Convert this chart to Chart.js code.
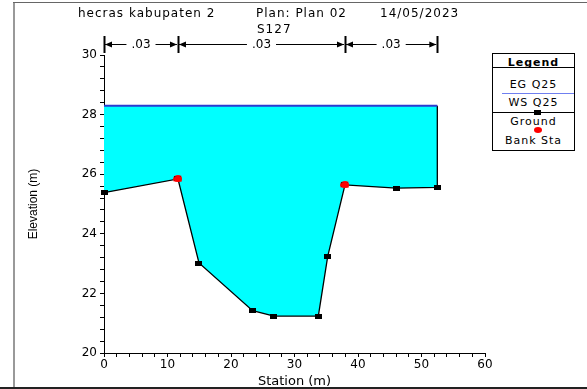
<!DOCTYPE html>
<html>
<head>
<meta charset="utf-8">
<script src="https://cdn.jsdelivr.net/npm/chart.js@4/dist/chart.umd.min.js"></script>
<style>
  body { margin: 0; background: #fff; }
  #wrap { position: relative; width: 587px; height: 389px; overflow: hidden; font-family: "DejaVu Sans", sans-serif; }
  #wrap canvas { position: absolute; left: 0; top: 0; }
  .txt { position: absolute; font-size: 12px; letter-spacing: 1px; white-space: nowrap; color: #000; line-height: 14px; }
  .frameL { position: absolute; left: 13px; top: 2px; width: 2px; height: 387px; background: #999; }
  .frameT { position: absolute; left: 13px; top: 2px; width: 600px; height: 1px; background: #666; }
  .frameB { position: absolute; left: 0; top: 387px; width: 587px; height: 2px; background: #222; }
  #legend { position: absolute; left: 492px; top: 53px; width: 81px; height: 96px; border: 1px solid #000; background: #fff; }
  #legend .row { position: absolute; left: 0; width: 100%; text-align: center; font-size: 11px; letter-spacing: 1px; line-height: 13px; }
  #legend .sep { position: absolute; left: 0; width: 100%; height: 1px; background: #000; }
</style>
</head>
<body>
<div id="wrap">
  <canvas id="chart" width="587" height="389"></canvas>
  <div class="frameL"></div>
  <div class="frameT"></div>
  <div class="frameB"></div>
  <div class="txt" style="left:78px; top:6px;">hecras kabupaten 2</div>
  <div class="txt" style="left:256px; top:6px;">Plan: Plan 02</div>
  <div class="txt" style="left:380px; top:6px;">14/05/2023</div>
  <div class="txt" style="left:257px; top:22px;">S127</div>
  <div id="legend">
    <div class="row" style="top:2px; font-weight:bold;">Legend</div>
    <div class="sep" style="top:13px;"></div>
    <div class="row" style="top:24px;">EG Q25</div>
    <div style="position:absolute; left:9px; right:0; top:39px; height:1px; background:#6f7ff0;"></div>
    <div class="row" style="top:42px;">WS Q25</div>
    <div style="position:absolute; left:0; right:0; top:58px; height:1px; background:#000;"></div>
    <div style="position:absolute; left:41px; top:56px; width:7px; height:5px; background:#000;"></div>
    <div class="row" style="top:61px;">Ground</div>
    <div style="position:absolute; left:41px; top:73px; width:8px; height:6px; border-radius:50%; background:#f00;"></div>
    <div class="row" style="top:80px;">Bank Sta</div>
  </div>
</div>
<script>
// cross section S127
const stations = [0, 11.65, 14.96, 23.4, 26.77, 33.75, 35.23, 37.95, 46.03, 52.49];
const elevations = [25.38, 25.84, 23.02, 21.42, 21.24, 21.24, 23.24, 25.64, 25.53, 25.56];
const wsElev = 28.3;
const bankStations = [11.65, 37.95];
const bankElevs = [25.84, 25.64];
// Manning's n regions
const nBreaks = [0, 11.65, 37.95, 52.49];
const nValues = [".03", ".03", ".03"];

// ground ends with a vertical edge up to the water surface
const groundPts = stations.map((s, i) => ({ x: s, y: elevations[i] }));
groundPts.push({ x: stations[stations.length - 1], y: wsElev });
const wsPts = [{ x: stations[0], y: wsElev }, { x: stations[stations.length - 1], y: wsElev }];
const bankPts = bankStations.map((s, i) => ({ x: s, y: bankElevs[i] }));

function makeMarker(w, h, color, round) {
  const c = document.createElement("canvas");
  c.width = w; c.height = h;
  const g = c.getContext("2d");
  g.fillStyle = color;
  if (round) {
    g.beginPath();
    g.ellipse(w / 2, h / 2, w / 2, h / 2, 0, 0, Math.PI * 2);
    g.fill();
  } else {
    g.fillRect(0, 0, w, h);
  }
  return c;
}
const squareMark = makeMarker(7, 5, "#000", false);
const bankMark = makeMarker(9, 7, "#f00", true);

const isMult = (v, m) => Math.abs(v / m - Math.round(v / m)) < 1e-6;

// draws the n-value bar above the plot
const nValuePlugin = {
  id: "nValues",
  afterDraw(chart) {
    const ctx = chart.ctx;
    const xs = chart.scales.x;
    const yLine = 44;
    ctx.save();
    ctx.strokeStyle = "#000";
    ctx.fillStyle = "#000";
    ctx.font = "12px 'DejaVu Sans'";
    ctx.textAlign = "center";
    ctx.textBaseline = "middle";
    nBreaks.forEach((s) => {
      const px = Math.round(xs.getPixelForValue(s)) + 0.5;
      ctx.lineWidth = 2;
      ctx.beginPath();
      ctx.moveTo(px, 36);
      ctx.lineTo(px, 53);
      ctx.stroke();
    });
    ctx.lineWidth = 1;
    for (let i = 0; i < nValues.length; i++) {
      const a = xs.getPixelForValue(nBreaks[i]) + 1;
      const b = xs.getPixelForValue(nBreaks[i + 1]) - 1;
      const mid = (a + b) / 2;
      const w = ctx.measureText(nValues[i]).width;
      ctx.fillText(nValues[i], mid, yLine + 1);
      ctx.beginPath();
      ctx.moveTo(a, yLine + 0.5);
      ctx.lineTo(mid - w / 2 - 5, yLine + 0.5);
      ctx.moveTo(mid + w / 2 + 5, yLine + 0.5);
      ctx.lineTo(b, yLine + 0.5);
      ctx.stroke();
      ctx.beginPath();
      ctx.moveTo(a, yLine + 0.5);
      ctx.lineTo(a + 7, yLine - 2.5);
      ctx.lineTo(a + 7, yLine + 3.5);
      ctx.closePath();
      ctx.moveTo(b, yLine + 0.5);
      ctx.lineTo(b - 7, yLine - 2.5);
      ctx.lineTo(b - 7, yLine + 3.5);
      ctx.closePath();
      ctx.fill();
    }
    ctx.restore();
  },
};

new Chart(document.getElementById("chart"), {
  type: "line",
  data: {
    datasets: [
      {
        label: "Bank Sta",
        data: bankPts,
        showLine: false,
        pointStyle: bankMark,
        pointRadius: 4,
        clip: false,
      },
      {
        label: "WS Q25",
        data: wsPts,
        borderColor: "#2b3bd0",
        borderWidth: 2,
        pointRadius: 0,
        fill: false,
      },
      {
        label: "Ground",
        data: groundPts,
        borderColor: "#000",
        borderWidth: 1.3,
        backgroundColor: "#00ffff",
        fill: { target: { value: wsElev }, above: "#00ffff", below: "#00ffff" },
        tension: 0,
        clip: false,
        pointStyle: squareMark,
        pointRadius: (c) => (c.dataIndex < stations.length ? 4 : 0),
      },
    ],
  },
  options: {
    responsive: false,
    animation: false,
    events: [],
    layout: { padding: { top: 55, right: 102, bottom: 0, left: 0 } },
    plugins: { legend: { display: false }, tooltip: { enabled: false } },
    scales: {
      x: {
        type: "linear",
        min: 0,
        max: 60,
        ticks: {
          stepSize: 2,
          autoSkip: false,
          maxRotation: 0,
          padding: 1,
          color: "#000",
          font: { family: "DejaVu Sans", size: 12 },
          callback: (v) => (isMult(v, 10) ? v : ""),
        },
        grid: { drawOnChartArea: false, tickLength: 4, color: "#000" },
        border: { color: "#000", width: 1 },
        title: {
          display: true,
          text: "Station (m)",
          color: "#000",
          font: { family: "DejaVu Sans", size: 13 },
          padding: { top: 1, bottom: 0 },
        },
        afterFit: (s) => { s.height = 36; s.paddingLeft = 0; s.paddingRight = 0; },
      },
      y: {
        min: 20,
        max: 30,
        ticks: {
          stepSize: 0.4,
          autoSkip: false,
          padding: 3,
          color: "#000",
          font: { family: "DejaVu Sans", size: 12 },
          callback: (v) => (isMult(v, 2) ? Math.round(v) : ""),
        },
        grid: { drawOnChartArea: false, tickLength: 4, color: "#000" },
        border: { color: "#000", width: 1 },
        title: {
          display: true,
          text: "Elevation (m)",
          color: "#000",
          font: { family: "'Liberation Sans Narrow', 'Liberation Sans'", size: 12 },
          padding: { top: 26, bottom: 0 },
        },
        afterFit: (s) => { s.width = 104; s.paddingTop = 0; s.paddingBottom = 0; },
      },
    },
  },
  plugins: [nValuePlugin],
});
</script>
</body>
</html>
